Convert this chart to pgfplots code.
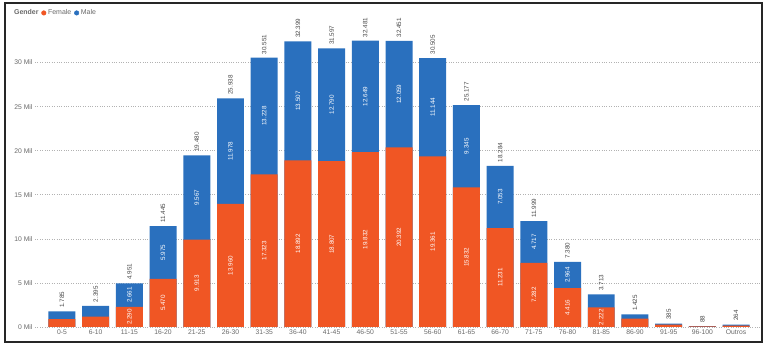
\documentclass[border=0pt]{standalone}
\usepackage{pgfplots}
\pgfplotsset{compat=1.18}
\usepackage{pgfplotstable}
\usepackage{fontspec}
\setmainfont{Liberation Sans}
\definecolor{forange}{RGB}{240,86,36}
\definecolor{mblue}{RGB}{42,112,190}
\definecolor{tickgray}{RGB}{105,105,105}
\definecolor{labgray}{RGB}{70,70,70}

\pgfplotstableread{
x female male total flab mlab tlab
0 900 885 1785 {} {} 1.785
1 1170 1225 2395 {} {} 2.395
2 2290 2661 4951 2.290 2.661 4.951
3 5470 5975 11445 5.470 5.975 11.445
4 9913 9567 19480 9.913 9.567 19.480
5 13960 11978 25938 13.960 11.978 25.938
6 17323 13228 30551 17.323 13.228 30.551
7 18892 13507 32399 18.892 13.507 32.399
8 18807 12790 31597 18.807 12.790 31.597
9 19832 12649 32481 19.832 12.649 32.481
10 20392 12059 32451 20.392 12.059 32.451
11 19361 11144 30505 19.361 11.144 30.505
12 15832 9345 25177 15.832 9.345 25.177
13 11231 7053 18284 11.231 7.053 18.284
14 7282 4717 11999 7.282 4.717 11.999
15 4416 2964 7380 4.416 2.964 7.380
16 2222 1491 3713 2.222 {} 3.713
17 950 475 1425 {} {} 1.425
18 260 125 385 {} {} 385
19 60 28 88 {} {} 88
20 150 114 264 {} {} 264
}\data

\begin{document}
\begin{tikzpicture}
\useasboundingbox (0bp,0bp) rectangle (768bp,360bp);
\draw[line width=1.3bp, black!85] (5bp,18bp) rectangle (762bp,357bp);
\begin{axis}[
  at={(35bp,33bp)}, anchor=south west,
  scale only axis, width=725bp, height=308.5bp,
  xmin=-0.8, xmax=20.71, ymin=0, ymax=35000,
  clip=false,
  scaled y ticks=false,
  axis line style={draw=none},
  major tick length=0pt,
  xtick={0,...,20},
  xticklabels={0-5,6-10,11-15,16-20,21-25,26-30,31-35,36-40,41-45,46-50,51-55,56-60,61-65,66-70,71-75,76-80,81-85,86-90,91-95,96-100,Outros},
  ytick={0,5000,10000,15000,20000,25000,30000},
  yticklabels={0 Mil,5 Mil,10 Mil,15 Mil,20 Mil,25 Mil,30 Mil},
  /pgf/number format/assume math mode=true,
  ticklabel style={font=\fontsize{6.8}{8}\selectfont, text=tickgray},
  xticklabel style={yshift=1bp},
  yticklabel style={xshift=1bp},
  ymajorgrids,
  major grid style={dotted, line width=0.7bp, gray!60},
  legend style={at={(-0.036,1.018)}, anchor=west, draw=none, fill=none,
    font=\fontsize{7}{8}\selectfont, text=tickgray, legend columns=-1,
    /tikz/every even column/.append style={column sep=1bp}},
  legend cell align=left,
]
\addlegendimage{empty legend}
\addlegendentry{\textbf{Gender}}
\addlegendimage{only marks, mark=*, mark size=2.3bp, color=forange}
\addlegendentry{Female}
\addlegendimage{only marks, mark=*, mark size=2.3bp, color=mblue}
\addlegendentry{Male}

\addplot[ybar, bar width=0.8, bar shift=0pt, fill=mblue, draw=none, forget plot]
  table[x=x, y=total]{\data};
\addplot[ybar, bar width=0.8, bar shift=0pt, fill=forange, draw=none, forget plot]
  table[x=x, y=female]{\data};

\addplot[draw=none, mark=none, forget plot, nodes near coords, point meta=explicit symbolic,
  nodes near coords style={rotate=90, anchor=center, font=\fontsize{6.3}{7}\selectfont, text=white}]
  table[x=x, y expr=\thisrow{female}/2, meta=flab]{\data};
\addplot[draw=none, mark=none, forget plot, nodes near coords, point meta=explicit symbolic,
  nodes near coords style={rotate=90, anchor=center, font=\fontsize{6.3}{7}\selectfont, text=white}]
  table[x=x, y expr=\thisrow{female}+\thisrow{male}/2, meta=mlab]{\data};
\addplot[draw=none, mark=none, forget plot, nodes near coords, point meta=explicit symbolic,
  nodes near coords style={rotate=90, anchor=west, inner xsep=3.5bp, font=\fontsize{6.3}{7}\selectfont, text=labgray}]
  table[x=x, y=total, meta=tlab]{\data};
\end{axis}
\end{tikzpicture}
\end{document}
